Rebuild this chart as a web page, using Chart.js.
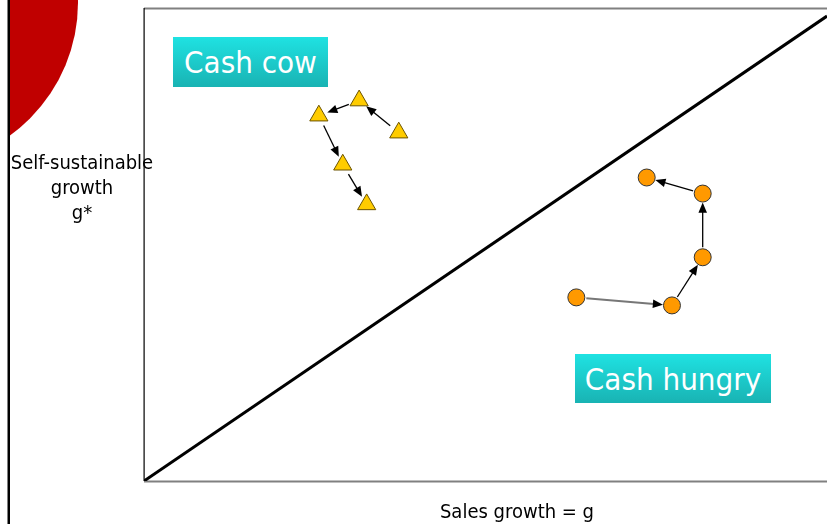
<!DOCTYPE html>
<html>
<head>
<meta charset="utf-8">
<script src="https://cdn.jsdelivr.net/npm/chart.js@4/dist/chart.umd.min.js"></script>
<style>
  body { margin: 0; background: #fff; }
  #wrap { position: relative; width: 827px; height: 524px; overflow: hidden;
          font-family: "DejaVu Sans Condensed", "DejaVu Sans", sans-serif; font-stretch: condensed; }
  #chart { position: absolute; left: 0; top: 0; }
  .tag { position: absolute; color: #fff; font-size: 31px; line-height: 50px; text-align: center;
         background: linear-gradient(#1fe2e2, #19b3b3); }
  #ytitle { position: absolute; left: 2px; top: 150px; width: 160px; text-align: center;
            font-size: 20px; line-height: 25px; color: #000; }
  #xtitle { position: absolute; left: 417px; top: 499px; width: 200px; text-align: center;
            font-size: 20px; color: #000; }
</style>
</head>
<body>
<div id="wrap">
  <canvas id="chart" width="827" height="524"></canvas>
  <div class="tag" style="left:173px;top:37px;width:155px;height:50px;">Cash cow</div>
  <div class="tag" style="left:575px;top:354px;width:196px;height:49px;">Cash hungry</div>
  <div id="ytitle">Self-sustainable<br>growth<br>g*</div>
  <div id="xtitle">Sales growth = g</div>
</div>
<script>
// Valores (escala 0-100 nos dois eixos)
const cashCowX = [37.3, 31.5, 25.6, 29.1, 32.6];
const cashCowY = [73.8, 80.6, 77.4, 67.0, 58.6];
const cashHungryX = [63.3, 77.3, 81.8, 81.8, 73.6];
const cashHungryY = [38.9, 37.2, 47.4, 60.9, 64.3];
const diagonalX = [0, 100];
const diagonalY = [0, 98.5];

const toPoints = (xs, ys) => xs.map((x, i) => ({ x: x, y: ys[i] }));

// Desenha o círculo vermelho decorativo, a linha vertical e as bordas do quadro
const framePlugin = {
  id: "frame",
  beforeDraw(chart) {
    const ctx = chart.ctx;
    ctx.save();
    ctx.beginPath();
    ctx.rect(9, 0, 200, 200);
    ctx.clip();
    ctx.fillStyle = "#c00000";
    ctx.beginPath();
    ctx.arc(-86, 2.5, 164, 0, Math.PI * 2);
    ctx.fill();
    ctx.restore();

    ctx.save();
    ctx.fillStyle = "#000";
    ctx.fillRect(7.5, 0, 2.5, 524);
    const a = chart.chartArea;
    ctx.fillStyle = "#808080";
    ctx.fillRect(a.left, a.top - 1.5, a.right - a.left, 2);
    ctx.fillRect(a.left, a.bottom - 0.5, a.right - a.left, 2);
    ctx.fillStyle = "#000";
    ctx.fillRect(a.left - 0.5, a.top - 1, 1.2, a.bottom - a.top + 1);
    ctx.restore();
  },
  // Setas entre pontos consecutivos de cada série
  beforeDatasetsDraw(chart) {
    const ctx = chart.ctx;
    const xs = chart.scales.x;
    const ys = chart.scales.y;
    const drawArrows = (px, py, gapStart, gapEnd, color, width) => {
      for (let i = 0; i < px.length - 1; i++) {
        const x1 = xs.getPixelForValue(px[i]), y1 = ys.getPixelForValue(py[i]);
        const x2 = xs.getPixelForValue(px[i + 1]), y2 = ys.getPixelForValue(py[i + 1]);
        const ang = Math.atan2(y2 - y1, x2 - x1);
        const sx = x1 + Math.cos(ang) * gapStart, sy = y1 + Math.sin(ang) * gapStart;
        const ex = x2 - Math.cos(ang) * gapEnd, ey = y2 - Math.sin(ang) * gapEnd;
        ctx.save();
        ctx.strokeStyle = color[i];
        ctx.fillStyle = "#000";
        ctx.lineWidth = width[i];
        ctx.beginPath();
        ctx.moveTo(sx, sy);
        ctx.lineTo(ex - Math.cos(ang) * 6, ey - Math.sin(ang) * 6);
        ctx.stroke();
        ctx.beginPath();
        ctx.moveTo(ex, ey);
        ctx.lineTo(ex - Math.cos(ang - 0.4) * 11, ey - Math.sin(ang - 0.4) * 11);
        ctx.lineTo(ex - Math.cos(ang + 0.4) * 11, ey - Math.sin(ang + 0.4) * 11);
        ctx.closePath();
        ctx.fill();
        ctx.restore();
      }
    };
    drawArrows(cashCowX, cashCowY, 11, 9, ["#000", "#000", "#000", "#000"], [1.3, 1.3, 1.3, 1.3]);
    drawArrows(cashHungryX, cashHungryY, 10, 9, ["#777", "#000", "#000", "#000"], [2, 1.3, 1.3, 1.3]);
  }
};

new Chart(document.querySelector("#chart"), {
  type: "scatter",
  data: {
    datasets: [
      {
        label: "diagonal",
        data: toPoints(diagonalX, diagonalY),
        showLine: true,
        borderColor: "#000",
        borderWidth: 3,
        pointRadius: 0
      },
      {
        label: "Cash cow",
        data: toPoints(cashCowX, cashCowY),
        pointStyle: "triangle",
        pointRadius: 10.5,
        backgroundColor: "#ffcc00",
        borderColor: "#6b5300",
        borderWidth: 1
      },
      {
        label: "Cash hungry",
        data: toPoints(cashHungryX, cashHungryY),
        pointStyle: "circle",
        pointRadius: 8.5,
        backgroundColor: "#ff9900",
        borderColor: "#333",
        borderWidth: 1
      }
    ]
  },
  options: {
    responsive: false,
    animation: false,
    layout: { autoPadding: false, padding: { left: 144, top: 9, right: 0, bottom: 43 } },
    plugins: { legend: { display: false }, tooltip: { enabled: false } },
    scales: {
      x: { display: false, min: 0, max: 100 },
      y: { display: false, min: 0, max: 100 }
    }
  },
  plugins: [framePlugin]
});
</script>
</body>
</html>
